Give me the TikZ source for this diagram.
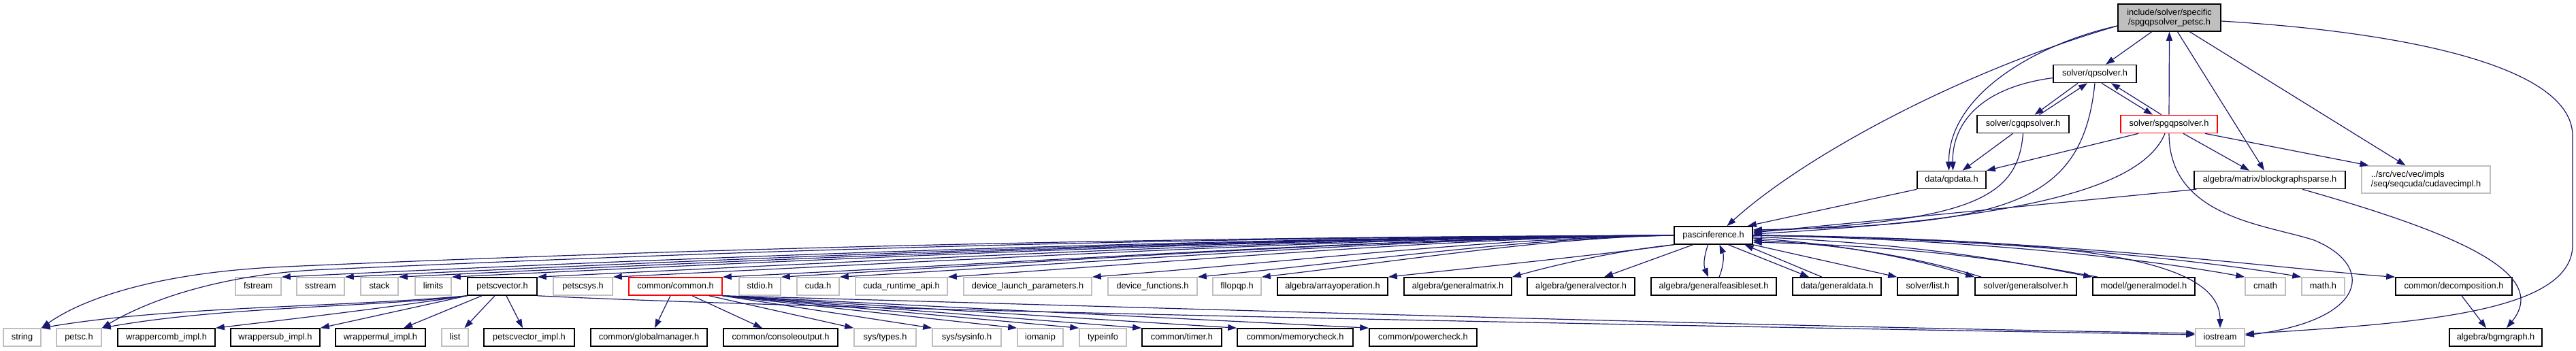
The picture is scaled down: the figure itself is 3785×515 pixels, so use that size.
\documentclass[tikz,border=0pt]{standalone}
\usepackage{fontspec}
\setmainfont{Liberation Sans}
\usetikzlibrary{arrows.meta,calc}
\definecolor{edgec}{HTML}{191970}
\definecolor{extc}{HTML}{BFBFBF}
\definecolor{redc}{HTML}{FF0000}
\definecolor{topfill}{HTML}{BFBFBF}
\newcommand\nd[6]{\node[#1, minimum width=#5*0.5pt] (#2) at (#3,#4) {#6};}
\newcommand\pledge[3]{%
  \pgfmathsetmacro\pDx{2460-#2}%
  \pgfmathsetmacro\pAx{2460-0.3*\pDx}%
  \pgfmathsetmacro\pBx{#2+0.35*\pDx}%
  \pgfmathsetmacro\pBy{408-#3*0.35*\pDx}%
  \draw[conn] (P.west) .. controls (\pAx,349) and (\pBx,\pBy) .. (#1.north east);}
\begin{document}
\begin{tikzpicture}[x=0.5pt,y=-0.5pt,
  fnt/.style={font=\fontsize{6.4}{7}\selectfont},
  box/.style={draw=black, line width=0.8pt, inner sep=0pt, minimum height=13pt, fnt, text=black, text height=4.8pt, text depth=1.4pt},
  ext/.style={box, draw=extc},
  redbox/.style={box, draw=redc},
  boxtwo/.style={draw=black, line width=0.8pt, inner sep=0pt, minimum height=20pt, fnt, text=black},
  conn/.style={draw=edgec, line width=0.6pt, -{Triangle[length=6.5pt,width=4.5pt]}},
]
\fill[white] (0,0) rectangle (3785,515);
\useasboundingbox (0,0) rectangle (3785,515);
% row 0-4
\node[boxtwo, fill=topfill, minimum width=151*0.5pt, align=center] (T) at (3187.5,26) {include/solver/specific\\/spgqpsolver\_petsc.h};
\nd{box}{Q}{3078}{108.5}{122}{solver/qpsolver.h}
\nd{box}{C}{2972.5}{182.5}{135}{solver/cgqpsolver.h}
\nd{redbox}{S}{3187}{182.5}{142}{solver/spgqpsolver.h}
\nd{box}{D}{2867.5}{264.5}{101}{data/qpdata.h}
\nd{box}{B}{3335}{264.5}{222}{algebra/matrix/blockgraphsparse.h}
\node[boxtwo, draw=extc, minimum width=189*0.5pt, align=left] (CV) at (3564.5,264) {../src/vec/vec/impls\\/seq/seqcuda/cudavecimpl.h};
\nd{box}{P}{2517.5}{346}{115}{pascinference.h}
% row 5
\nd{ext}{fstream}{379.5}{421}{67}{fstream}
\nd{ext}{sstream}{471}{421}{70}{sstream}
\nd{ext}{stack}{557.5}{421}{55}{stack}
\nd{ext}{limits}{636.5}{421}{53}{limits}
\nd{box}{pvec}{738}{421}{102}{petscvector.h}
\nd{ext}{petscsys}{856.5}{421}{87}{petscsys.h}
\nd{redbox}{common}{992.5}{421}{137}{common/common.h}
\nd{ext}{stdio}{1116.5}{421}{61}{stdio.h}
\nd{ext}{cuda}{1202}{421}{62}{cuda.h}
\nd{ext}{cudart}{1324.5}{421}{135}{cuda\_runtime\_api.h}
\nd{ext}{dlp}{1510}{421}{188}{device\_launch\_parameters.h}
\nd{ext}{devfun}{1693.5}{421}{131}{device\_functions.h}
\nd{ext}{fllopqp}{1817.5}{421}{71}{fllopqp.h}
\nd{box}{arrop}{1958}{421}{162}{algebra/arrayoperation.h}
\nd{box}{gmat}{2142}{421}{158}{algebra/generalmatrix.h}
\nd{box}{gvec}{2323}{421}{158}{algebra/generalvector.h}
\nd{box}{gfs}{2518}{421}{184}{algebra/generalfeasibleset.h}
\nd{box}{gdata}{2699}{421}{130}{data/generaldata.h}
\nd{box}{slist}{2832.5}{421}{89}{solver/list.h}
\nd{box}{gsolver}{2976.5}{421}{149}{solver/generalsolver.h}
\nd{box}{gmodel}{3150}{421}{150}{model/generalmodel.h}
\nd{ext}{cmath}{3328.5}{421}{59}{cmath}
\nd{ext}{mathh}{3413.5}{421}{63}{math.h}
\nd{box}{decomp}{3605.5}{421}{171}{common/decomposition.h}
% row 6
\nd{ext}{string}{32.5}{496}{55}{string}
\nd{ext}{petsc}{116}{496}{66}{petsc.h}
\nd{box}{wcomb}{244.5}{496}{143}{wrappercomb\_impl.h}
\nd{box}{wsub}{404.5}{496}{131}{wrappersub\_impl.h}
\nd{box}{wmul}{559}{496}{132}{wrappermul\_impl.h}
\nd{ext}{list}{668.5}{496}{39}{list}
\nd{box}{pvimpl}{777.5}{496}{133}{petscvector\_impl.h}
\nd{box}{gm}{953.5}{496}{171}{common/globalmanager.h}
\nd{box}{co}{1147}{496}{168}{common/consoleoutput.h}
\nd{ext}{stypes}{1300.5}{496}{91}{sys/types.h}
\nd{ext}{ssysinfo}{1420.5}{496}{101}{sys/sysinfo.h}
\nd{ext}{iomanip}{1528.5}{496}{67}{iomanip}
\nd{ext}{typeinfo}{1620.5}{496}{69}{typeinfo}
\nd{box}{timer}{1736.5}{496}{117}{common/timer.h}
\nd{box}{memcheck}{1903}{496}{170}{common/memorycheck.h}
\nd{box}{powercheck}{2091}{496}{158}{common/powercheck.h}
\nd{ext}{iostream}{3262}{496}{72}{iostream}
\nd{box}{bgm}{3667}{496}{136}{algebra/bgmgraph.h}
% T edges
\draw[conn] ([xshift=-13pt]T.south) -- ([xshift=8pt]Q.north);
\draw[conn] ([yshift=-6pt]T.west) .. controls (2990,65) and (2863,140) .. ([xshift=-2pt]D.north);
\draw[conn] ([yshift=-6pt]T.west) .. controls (2880,105) and (2650,230) .. ([xshift=10pt]P.north);
\draw[conn] ([xshift=6pt]T.south) -- ([xshift=-4pt]B.north);
\draw[conn] ([xshift=15pt]T.south) -- ([xshift=-15pt]CV.north);
\draw[conn] ([yshift=-2.5pt]T.east) .. controls (3500,45) and (3780,90) .. (3780,200) -- (3780,360) .. controls (3780,460) and (3550,475) .. ([yshift=2.5pt]iostream.east);
% Q edges
\draw[conn] ([xshift=-12.5pt]Q.south) -- ([xshift=8.5pt]C.north);
\draw[conn] ([xshift=12pt]C.north) -- ([xshift=-5.5pt]Q.south);
\draw[conn] ([xshift=5pt]Q.south) -- ([xshift=-12pt]S.north);
\draw[conn] ([xshift=-5.5pt]S.north) -- ([xshift=12pt]Q.south);
\draw[conn] ([yshift=-3pt]Q.west) .. controls (2900,130) and (2868,190) .. ([xshift=1pt]D.north);
\draw[conn] (Q.south) .. controls (3060,300) and (2950,330) .. ([yshift=4pt]P.east);
% C edges
\draw[conn] ([xshift=-7.5pt]C.south) -- ([xshift=8pt]D.north);
\draw[conn] (C.south) .. controls (2965,290) and (2900,325) .. ([yshift=3pt]P.east);
% S edges
\draw[conn] (S.north) -- (T.south);
\draw[conn] ([xshift=-22.5pt]S.south) -- (D.north east);
\draw[conn] ([xshift=-3pt]S.south) .. controls (3150,270) and (3000,320) .. ([yshift=1pt]P.east);
\draw[conn] ([xshift=10.5pt]S.south) -- ([xshift=-15pt]B.north);
\draw[conn] ([xshift=26.5pt]S.south) -- ([xshift=-42pt]CV.north);
\draw[conn] (S.south) .. controls (3187,320) and (3330,330) .. (3400,353) .. controls (3490,390) and (3480,470) .. ([yshift=1.5pt]iostream.east);
% D, B, decomposition
\draw[conn] (D.south west) -- ([xshift=-4pt]P.north east);
\draw[conn] ([xshift=2pt]B.south west) -- ([yshift=2pt]P.east);
\draw[conn] ([xshift=24pt]B.south) .. controls (3600,340) and (3750,400) .. ([xshift=8pt]bgm.north);
\draw[conn] ([xshift=5.75pt]decomp.south) -- ([xshift=-7pt]bgm.north);
% P to the left
\pledge{fstream}{413}{0.05}
\pledge{sstream}{506}{0.05}
\pledge{stack}{585}{0.05}
\pledge{limits}{663}{0.05}
\pledge{pvec}{789}{0.05}
\pledge{petscsys}{900}{0.05}
\pledge{common}{1061}{0.05}
\pledge{stdio}{1147}{0.06}
\pledge{cuda}{1233}{0.06}
\pledge{cudart}{1392}{0.07}
\pledge{dlp}{1604}{0.08}
\pledge{devfun}{1759}{0.1}
\pledge{fllopqp}{1853}{0.12}
\draw[conn] (P.west) .. controls (1500,349) and (800,375) .. (420,392) .. controls (230,400) and (120,440) .. (string.north east);
\draw[conn] (P.west) .. controls (1500,350) and (850,380) .. (480,396) .. controls (330,402) and (220,440) .. (petsc.north east);
\draw[conn] (P.south west) .. controls (2350,375) and (2150,395) .. (arrop.north east);
\draw[conn] (P.south west) .. controls (2380,368) and (2290,388) .. (gmat.north east);
\draw[conn] ([xshift=-15pt]P.south) -- ([xshift=17pt]gvec.north);
% P down / right
\draw[conn] ([xshift=-4pt]P.south) .. controls (2503,380) and (2503,390) .. ([xshift=-4pt]gfs.north);
\draw[conn] ([xshift=4pt]gfs.north) .. controls (2533,390) and (2533,375) .. ([xshift=4.5pt]P.south);
\draw[conn] ([xshift=11pt]P.south) -- ([xshift=-20.5pt]gdata.north);
\draw[conn] ([xshift=-11pt]gdata.north) -- ([xshift=23pt]P.south);
\draw[conn] (P.south east) -- (slist.north west);
\draw[conn] ([yshift=-2pt]P.east) .. controls (2750,362) and (2850,392) .. (gsolver.north west);
\draw[conn] ([xshift=5pt]gsolver.north west) .. controls (2855,390) and (2750,362) .. ([yshift=-3.5pt]P.east);
\draw[conn] ([yshift=-1pt]P.east) .. controls (2850,360) and (2980,390) .. (gmodel.north west);
\draw[conn] ([xshift=4pt]gmodel.north west) .. controls (2985,390) and (2850,363) .. ([yshift=-5pt]P.east);
\draw[conn] (P.east) .. controls (2900,352) and (3150,380) .. (cmath.north west);
\draw[conn] (P.east) .. controls (2950,350) and (3250,385) .. (mathh.north west);
\draw[conn] (P.east) .. controls (3000,348) and (3380,398) .. (decomp.north west);
\draw[conn] (P.east) .. controls (3000,352) and (3262,370) .. (iostream.north);
% petscvector edges
\draw[conn] (pvec.south west) .. controls (500,452) and (250,450) .. (string.north east);
\draw[conn] (pvec.south west) .. controls (550,452) and (330,450) .. (petsc.north east);
\draw[conn] (pvec.south west) .. controls (550,455) and (420,470) .. (wcomb.north east);
\draw[conn] (pvec.south west) -- (wsub.north east);
\draw[conn] ([xshift=-15pt]pvec.south) -- ([xshift=17pt]wmul.north);
\draw[conn] ([xshift=-5.5pt]pvec.south) -- ([xshift=7pt]list.north);
\draw[conn] ([xshift=3pt]pvec.south) -- ([xshift=-4.75pt]pvimpl.north);
\draw[conn] (pvec.south east) .. controls (1200,455) and (2400,478) .. ([yshift=2pt]iostream.west);
% common edges
\draw[conn] ([xshift=-3.75pt]common.south) -- ([xshift=4.25pt]gm.north);
\draw[conn] ([xshift=12.25pt]common.south) -- ([xshift=-13.5pt]co.north);
\draw[conn] ([xshift=24.75pt]common.south) -- (stypes.north west);
\draw[conn] (common.south east) -- (ssysinfo.north west);
\draw[conn] (common.south east) -- (iomanip.north west);
\draw[conn] (common.south east) -- (typeinfo.north west);
\draw[conn] (common.south east) -- (timer.north west);
\draw[conn] (common.south east) -- (memcheck.north west);
\draw[conn] (common.south east) -- (powercheck.north west);
\draw[conn] (common.south east) .. controls (1700,452) and (2500,478) .. ([yshift=3pt]iostream.west);
\end{tikzpicture}
\end{document}
